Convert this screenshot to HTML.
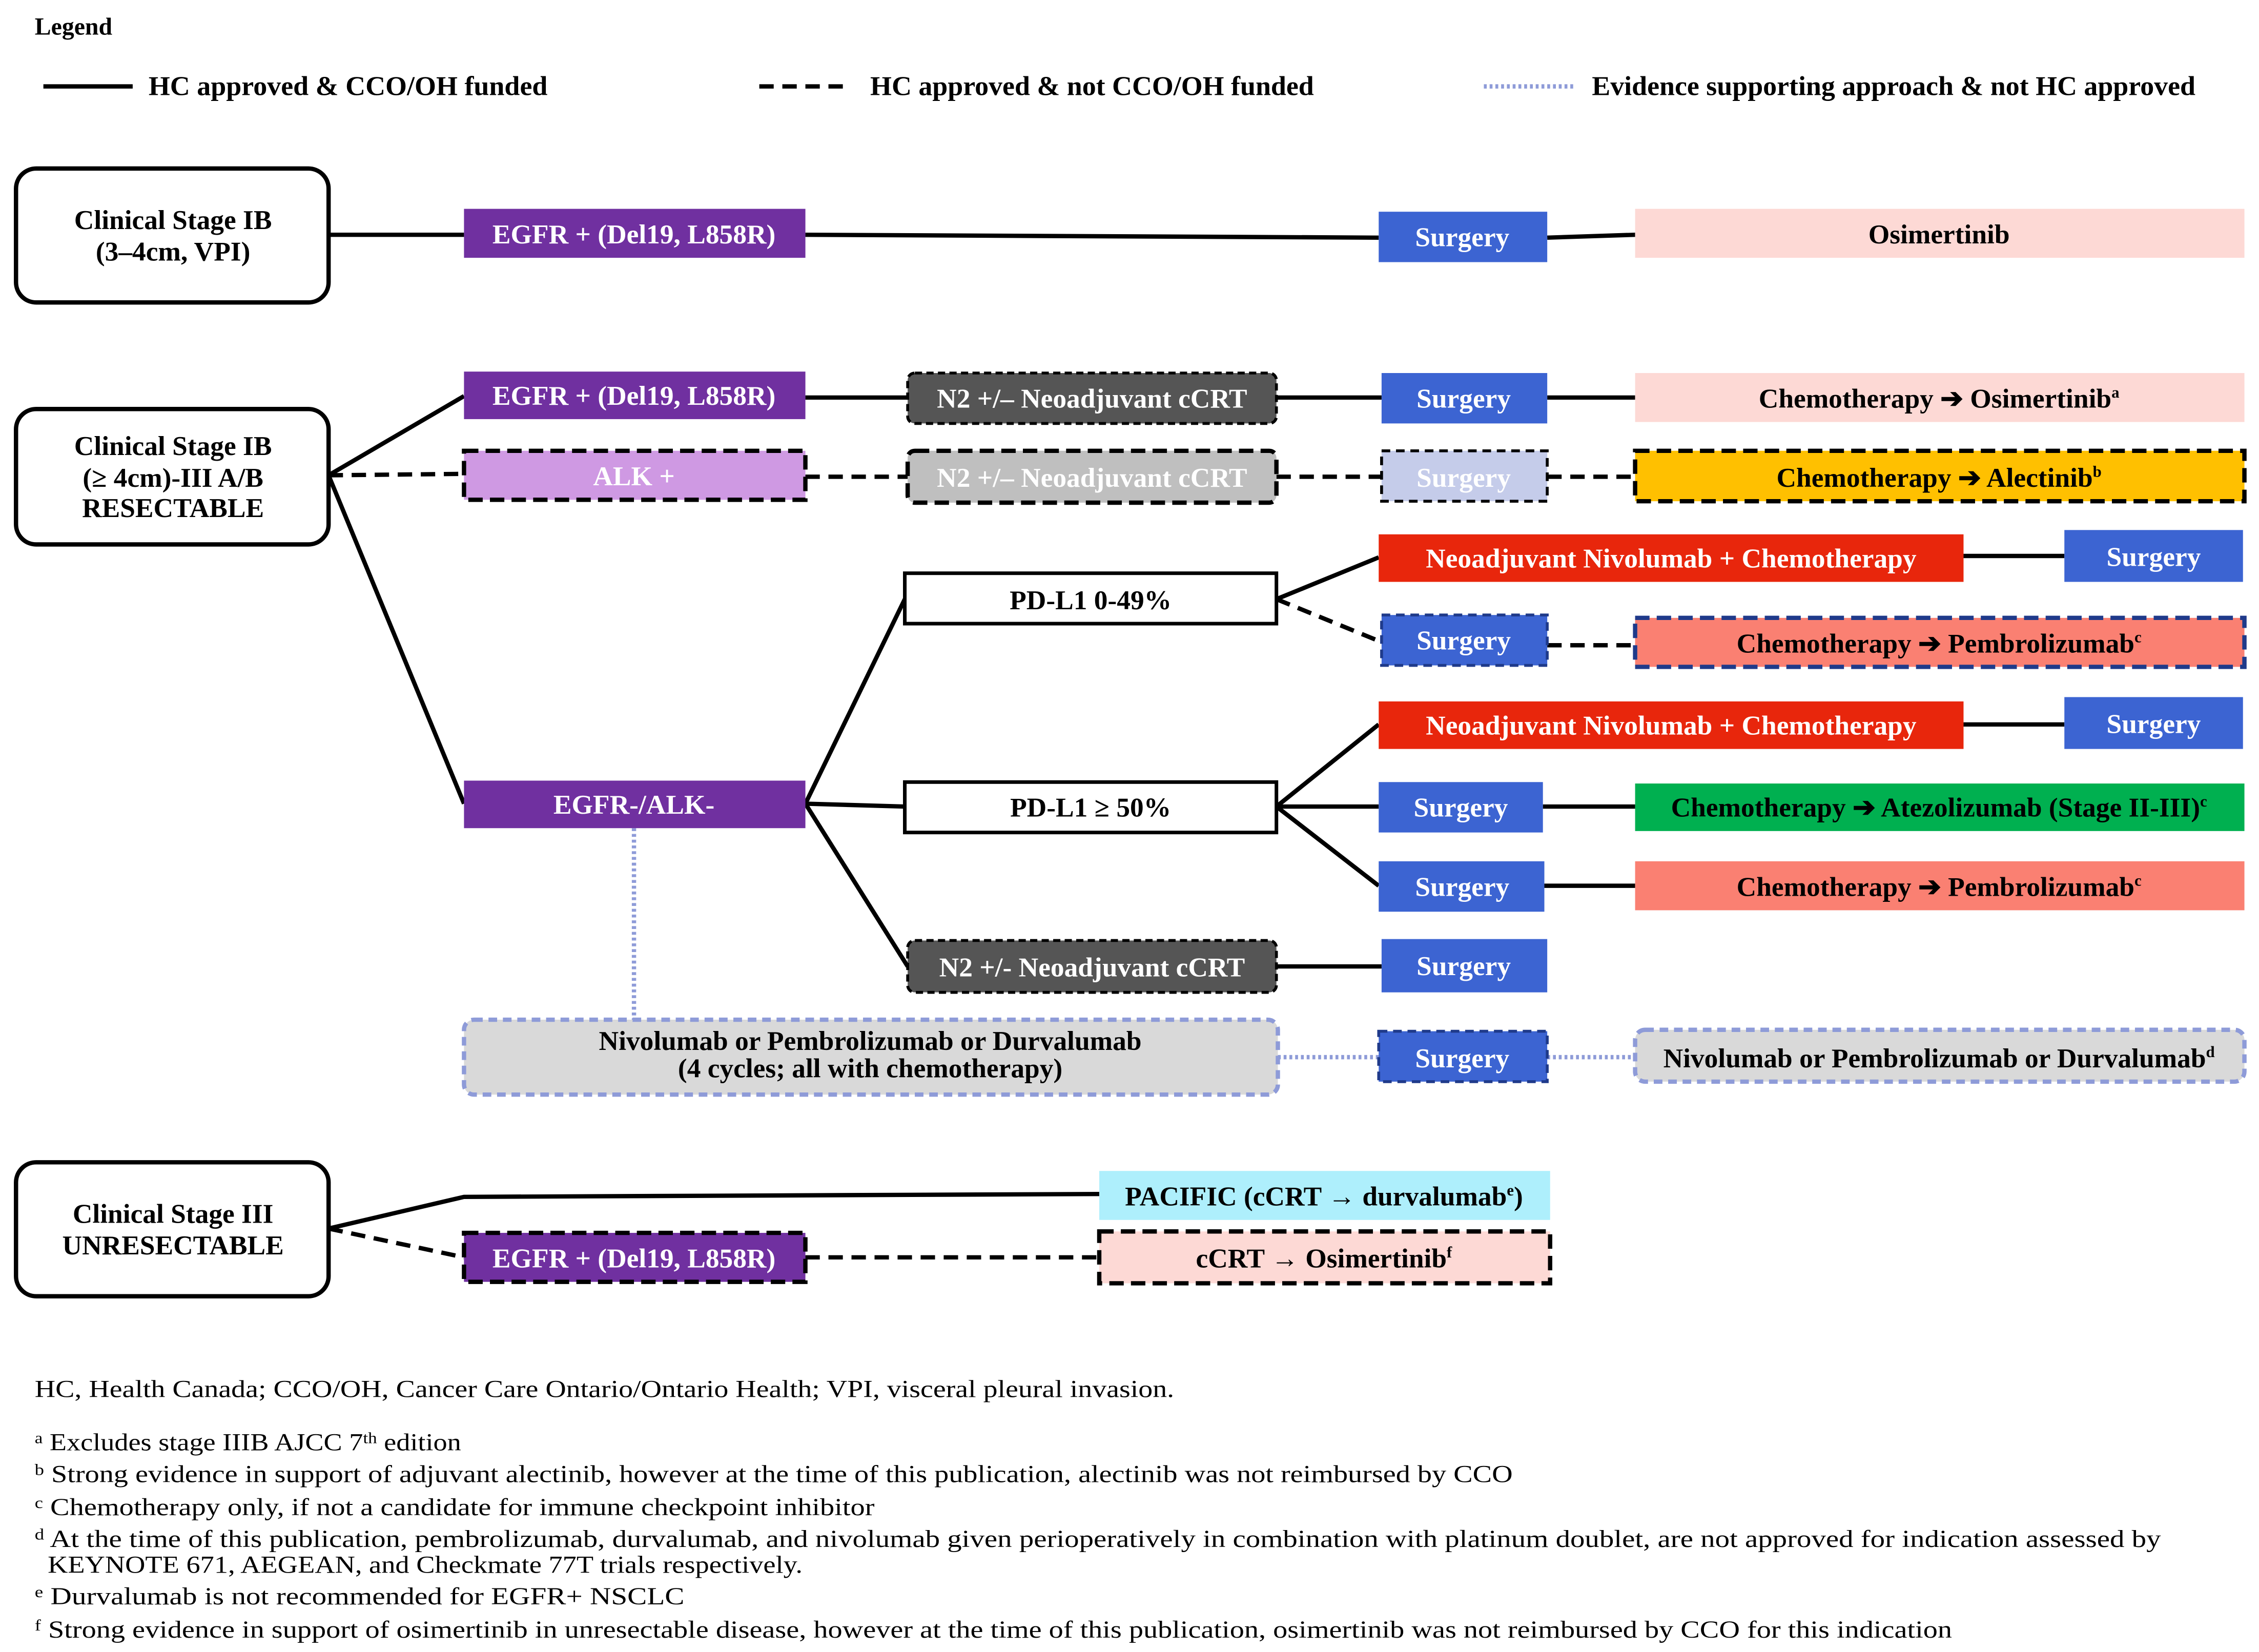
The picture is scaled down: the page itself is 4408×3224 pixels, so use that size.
<!DOCTYPE html>
<html><head><meta charset="utf-8"><style>
html,body{margin:0;padding:0;background:#fff;}
svg{display:block;}
text{font-family:"Liberation Serif",serif;}
.b{font-weight:bold;font-size:19px;}
.w{fill:#fff;}
.f{font-size:17px;}
</style></head><body>
<svg width="4408" height="3224" viewBox="0 0 1568 1147" xmlns="http://www.w3.org/2000/svg">
<rect width="1568" height="1147" fill="#fff"/>
<!-- legend -->
<text x="24" y="24" font-weight="bold" font-size="17">Legend</text>
<line x1="30" y1="60" x2="92" y2="60" stroke="#000" stroke-width="3"/>
<text x="103" y="66" class="b" font-size="18" textLength="277" lengthAdjust="spacingAndGlyphs">HC approved &amp; CCO/OH funded</text>
<line x1="527" y1="60" x2="590" y2="60" stroke="#000" stroke-width="3" stroke-dasharray="10,6"/>
<text x="604" y="66" class="b" font-size="18" textLength="308" lengthAdjust="spacingAndGlyphs">HC approved &amp; not CCO/OH funded</text>
<line x1="1030" y1="60" x2="1092" y2="60" stroke="#8E9BD8" stroke-width="3" stroke-dasharray="2,2"/>
<text x="1105" y="66" class="b" font-size="18" textLength="419" lengthAdjust="spacingAndGlyphs">Evidence supporting approach &amp; not HC approved</text>

<g fill="none" stroke="#000" stroke-width="3">
<line x1="228" y1="163" x2="322" y2="163"/>
<line x1="559" y1="163" x2="957" y2="165"/>
<line x1="1074" y1="165" x2="1135" y2="163"/>
<line x1="228" y1="330" x2="322" y2="275"/>
<line x1="559" y1="276" x2="630" y2="276"/>
<line x1="886" y1="276" x2="959" y2="276"/>
<line x1="1074" y1="276" x2="1135" y2="276"/>
<line x1="228" y1="330" x2="322" y2="558"/>
<line x1="559" y1="558" x2="628" y2="416"/>
<line x1="559" y1="558" x2="628" y2="560"/>
<line x1="559" y1="558" x2="630" y2="671"/>
<line x1="886" y1="416" x2="957" y2="387"/>
<line x1="1363" y1="386" x2="1433" y2="386"/>
<line x1="886" y1="560" x2="957" y2="503"/>
<line x1="1363" y1="503" x2="1433" y2="503"/>
<line x1="886" y1="560" x2="957" y2="560"/>
<line x1="1071" y1="560" x2="1135" y2="560"/>
<line x1="886" y1="560" x2="957" y2="615"/>
<line x1="1072" y1="615" x2="1135" y2="615"/>
<line x1="886" y1="671" x2="959" y2="671"/>
<polyline points="228,853 322,831 763,829"/>
</g>
<g fill="none" stroke="#000" stroke-width="3" stroke-dasharray="10,6">
<line x1="228" y1="330" x2="322" y2="329"/>
<line x1="559" y1="331" x2="630" y2="331"/>
<line x1="886" y1="331" x2="959" y2="331"/>
<line x1="1074" y1="331" x2="1135" y2="331"/>
<line x1="886" y1="416" x2="957" y2="445"/>
<line x1="1074" y1="448" x2="1135" y2="448"/>
<line x1="228" y1="853" x2="322" y2="873"/>
<line x1="559" y1="873" x2="763" y2="873"/>
</g>
<g fill="none" stroke="#8E9BD8" stroke-width="3" stroke-dasharray="2,2">
<line x1="440" y1="575" x2="440" y2="708"/>
<line x1="887" y1="734" x2="957" y2="734"/>
<line x1="1074" y1="734" x2="1135" y2="734"/>
</g>

<g fill="#fff" stroke="#000" stroke-width="3">
<rect x="11" y="117" width="217" height="93" rx="14"/>
<rect x="11" y="284" width="217" height="94" rx="14"/>
<rect x="11" y="807" width="217" height="93" rx="14"/>
</g>
<g class="b" text-anchor="middle">
<text x="120" y="159">Clinical Stage IB</text>
<text x="120" y="181">(3–4cm, VPI)</text>
<text x="120" y="316">Clinical Stage IB</text>
<text x="120" y="338">(&#8805; 4cm)-III A/B</text>
<text x="120" y="359">RESECTABLE</text>
<text x="120" y="849">Clinical Stage III</text>
<text x="120" y="871">UNRESECTABLE</text>
</g>

<g>
<rect x="322" y="145" width="237" height="34" fill="#7030A0"/>
<rect x="957" y="147" width="117" height="35" fill="#3C64D2"/>
<rect x="1135" y="145" width="423" height="34" fill="#FDD9D5"/>
<rect x="322" y="258" width="237" height="33" fill="#7030A0"/>
<rect x="630" y="259" width="256" height="35" rx="5" fill="#555" stroke="#000" stroke-width="2" stroke-dasharray="5,3"/>
<rect x="959" y="259" width="115" height="35" fill="#3C64D2"/>
<rect x="1135" y="259" width="423" height="34" fill="#FDD9D5"/>
<rect x="322" y="313" width="237" height="34" fill="#CF99E3" stroke="#000" stroke-width="3" stroke-dasharray="10,5"/>
<rect x="630" y="313" width="256" height="36" rx="5" fill="#BFBFBF" stroke="#000" stroke-width="3" stroke-dasharray="10,5"/>
<rect x="959" y="313" width="115" height="35" fill="#C5CCEA" stroke="#000" stroke-width="2" stroke-dasharray="6,4"/>
<rect x="1135" y="313" width="423" height="35" fill="#FFC000" stroke="#000" stroke-width="3" stroke-dasharray="10,5"/>
<rect x="322" y="542" width="237" height="33" fill="#7030A0"/>
<rect x="628" y="398" width="258" height="35" fill="#fff" stroke="#000" stroke-width="2.5"/>
<rect x="628" y="543" width="258" height="35" fill="#fff" stroke="#000" stroke-width="2.5"/>
<rect x="630" y="653" width="256" height="36" rx="5" fill="#555" stroke="#000" stroke-width="2" stroke-dasharray="5,3"/>
<rect x="957" y="371" width="406" height="33" fill="#E8260C"/>
<rect x="1433" y="368" width="124" height="36" fill="#3C64D2"/>
<rect x="959" y="427" width="115" height="35" fill="#3C64D2" stroke="#1F3A8A" stroke-width="2" stroke-dasharray="6,4"/>
<rect x="1135" y="429" width="423" height="34" fill="#FA8072" stroke="#1F3A8A" stroke-width="3" stroke-dasharray="10,5"/>
<rect x="957" y="487" width="406" height="33" fill="#E8260C"/>
<rect x="1433" y="484" width="124" height="36" fill="#3C64D2"/>
<rect x="957" y="543" width="114" height="35" fill="#3C64D2"/>
<rect x="1135" y="544" width="423" height="33" fill="#00B050"/>
<rect x="957" y="598" width="115" height="35" fill="#3C64D2"/>
<rect x="1135" y="598" width="423" height="34" fill="#FA8072"/>
<rect x="959" y="652" width="115" height="37" fill="#3C64D2"/>
<rect x="322" y="708" width="565" height="52" rx="7" fill="#D9D9D9" stroke="#8E9BD8" stroke-width="3" stroke-dasharray="6,4"/>
<rect x="957" y="716" width="117" height="35" fill="#3C64D2" stroke="#1F3A8A" stroke-width="2" stroke-dasharray="6,4"/>
<rect x="1135" y="715" width="423" height="36" rx="7" fill="#D9D9D9" stroke="#8E9BD8" stroke-width="3" stroke-dasharray="6,4"/>
<rect x="763" y="813" width="313" height="34" fill="#AEEFFC"/>
<rect x="322" y="856" width="237" height="34" fill="#7030A0" stroke="#000" stroke-width="3" stroke-dasharray="10,5"/>
<rect x="763" y="855" width="313" height="36" fill="#FDD9D5" stroke="#000" stroke-width="3" stroke-dasharray="10,5"/>
</g>

<g class="b" text-anchor="middle">
<text x="440" y="169" class="w">EGFR + (Del19, L858R)</text>
<text x="1015" y="171" class="w">Surgery</text>
<text x="1346" y="169">Osimertinib</text>
<text x="440" y="281" class="w">EGFR + (Del19, L858R)</text>
<text x="758" y="283" class="w">N2 +/– Neoadjuvant cCRT</text>
<text x="1016" y="283" class="w">Surgery</text>
<text x="1346" y="283">Chemotherapy &#10132; Osimertinib<tspan font-size="11" dy="-7">a</tspan></text>
<text x="440" y="337" class="w">ALK +</text>
<text x="758" y="338" class="w">N2 +/–  Neoadjuvant cCRT</text>
<text x="1016" y="338" class="w">Surgery</text>
<text x="1346" y="338">Chemotherapy &#10132; Alectinib<tspan font-size="11" dy="-7">b</tspan></text>
<text x="440" y="565" class="w">EGFR-/ALK-</text>
<text x="757" y="423">PD-L1 0-49%</text>
<text x="757" y="567">PD-L1 &#8805; 50%</text>
<text x="758" y="678" class="w">N2 +/- Neoadjuvant cCRT</text>
<text x="1160" y="394" class="w">Neoadjuvant Nivolumab + Chemotherapy</text>
<text x="1495" y="393" class="w">Surgery</text>
<text x="1016" y="451" class="w">Surgery</text>
<text x="1346" y="453">Chemotherapy &#10132; Pembrolizumab<tspan font-size="11" dy="-7">c</tspan></text>
<text x="1160" y="510" class="w">Neoadjuvant Nivolumab + Chemotherapy</text>
<text x="1495" y="509" class="w">Surgery</text>
<text x="1014" y="567" class="w">Surgery</text>
<text x="1346" y="567">Chemotherapy &#10132; Atezolizumab (Stage II-III)<tspan font-size="11" dy="-7">c</tspan></text>
<text x="1015" y="622" class="w">Surgery</text>
<text x="1346" y="622">Chemotherapy &#10132; Pembrolizumab<tspan font-size="11" dy="-7">c</tspan></text>
<text x="1016" y="677" class="w">Surgery</text>
<text x="604" y="729">Nivolumab or Pembrolizumab or Durvalumab</text>
<text x="604" y="748">(4 cycles; all with chemotherapy)</text>
<text x="1015" y="741" class="w">Surgery</text>
<text x="1346" y="741">Nivolumab or Pembrolizumab or Durvalumab<tspan font-size="11" dy="-7">d</tspan></text>
<text x="919" y="837">PACIFIC (cCRT &#8594; durvalumab<tspan font-size="11" dy="-7">e</tspan><tspan dy="7">)</tspan></text>
<text x="440" y="880" class="w">EGFR + (Del19, L858R)</text>
<text x="919" y="880">cCRT &#8594; Osimertinib<tspan font-size="11" dy="-7">f</tspan></text>
</g>

<g class="f">
<text x="24" y="970" textLength="791" lengthAdjust="spacingAndGlyphs">HC, Health Canada; CCO/OH, Cancer Care Ontario/Ontario Health; VPI, visceral pleural invasion.</text>
<text x="24" y="1007" textLength="296" lengthAdjust="spacingAndGlyphs"><tspan font-size="11" dy="-5">a</tspan><tspan dy="5"> Excludes stage IIIB AJCC 7</tspan><tspan font-size="11" dy="-5">th</tspan><tspan dy="5"> edition</tspan></text>
<text x="24" y="1029" textLength="1026" lengthAdjust="spacingAndGlyphs"><tspan font-size="11" dy="-5">b</tspan><tspan dy="5"> Strong evidence in support of adjuvant alectinib, however at the time of this publication, alectinib was not reimbursed by CCO</tspan></text>
<text x="24" y="1052" textLength="583" lengthAdjust="spacingAndGlyphs"><tspan font-size="11" dy="-5">c</tspan><tspan dy="5"> Chemotherapy only, if not a candidate for immune checkpoint inhibitor</tspan></text>
<text x="24" y="1074" textLength="1476" lengthAdjust="spacingAndGlyphs"><tspan font-size="11" dy="-5">d</tspan><tspan dy="5"> At the time of this publication, pembrolizumab, durvalumab, and nivolumab given perioperatively in combination with platinum doublet, are not approved for indication assessed by</tspan></text>
<text x="33" y="1092" textLength="524" lengthAdjust="spacingAndGlyphs">KEYNOTE 671, AEGEAN, and Checkmate 77T trials respectively.</text>
<text x="24" y="1114" textLength="451" lengthAdjust="spacingAndGlyphs"><tspan font-size="11" dy="-5">e</tspan><tspan dy="5"> Durvalumab is not recommended for EGFR+ NSCLC</tspan></text>
<text x="24" y="1137" textLength="1331" lengthAdjust="spacingAndGlyphs"><tspan font-size="11" dy="-5">f</tspan><tspan dy="5"> Strong evidence in support of osimertinib in unresectable disease, however at the time of this publication, osimertinib was not reimbursed by CCO for this indication</tspan></text>
</g>
</svg>
</body></html>
